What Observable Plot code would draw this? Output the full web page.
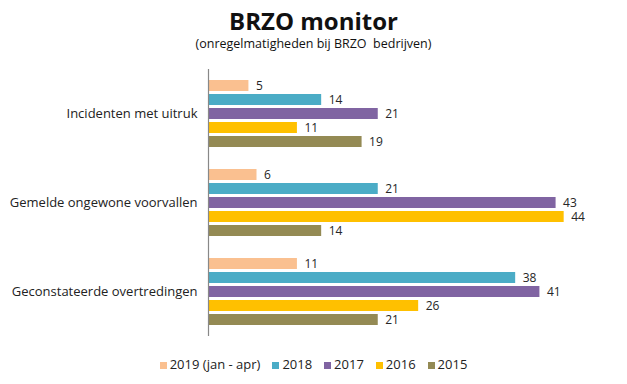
<!DOCTYPE html>
<html><head><meta charset="utf-8">
<script src="https://cdn.jsdelivr.net/npm/d3@7"></script>
<script src="https://cdn.jsdelivr.net/npm/@observablehq/plot@0.6"></script>
<style>
body{margin:0;background:#fff;font-family:"Open Sans",sans-serif;}
#wrap{position:relative;width:627px;height:384px;overflow:hidden}
#chart{position:absolute;left:0;top:0}
#title{position:absolute;top:5px;left:0;width:627px;text-align:center;font-weight:700;font-size:24px;color:#111;line-height:32px}
#subtitle{position:absolute;top:36px;left:0;width:627px;text-align:center;font-size:12.5px;color:#111;line-height:16px}
#legend{position:absolute;top:356px;left:0;width:627px;display:flex;justify-content:center;gap:12px;font-size:13px;color:#222;line-height:16px}
#legend span.sw{display:inline-block;width:7px;height:7px;margin-right:3px;vertical-align:0px}
</style></head>
<body>
<div id="wrap">
<div id="chart"></div>
<div id="title">BRZO monitor</div>
<div id="subtitle">(onregelmatigheden bij BRZO&nbsp; bedrijven)</div>
<div id="legend"></div>
</div>
<script>
const categories = ["Incidenten met uitruk", "Gemelde ongewone voorvallen", "Geconstateerde overtredingen"];
const series = ["2019 (jan - apr)", "2018", "2017", "2016", "2015"];
const v2019 = [5, 6, 11];
const v2018 = [14, 21, 38];
const v2017 = [21, 43, 41];
const v2016 = [11, 44, 26];
const v2015 = [19, 14, 21];
const colors = ["#FAC090", "#4BACC6", "#8064A2", "#FFC000", "#948A54"];

const seriesValues = [v2019, v2018, v2017, v2016, v2015];
const rows = [];
categories.forEach((c, i) => {
  series.forEach((s, j) => rows.push({category: c, series: s, value: seriesValues[j][i]}));
});

const chart = Plot.plot({
  width: 627,
  height: 384,
  marginLeft: 208,
  marginRight: 31,
  marginTop: 69,
  marginBottom: 48,
  style: {fontFamily: "Open Sans, sans-serif", fontSize: "13px", color: "#222", background: "transparent"},
  x: {domain: [0, 48], axis: null},
  y: {domain: series, paddingInner: 0.2, paddingOuter: 0.62, axis: null},
  fy: {domain: categories, padding: 0, label: null, axis: "left", tickSize: 0, tickPadding: 11},
  color: {domain: series, range: colors},
  marks: [
    Plot.barX(rows, {x: "value", y: "series", fy: "category", fill: "series"}),
    Plot.text(rows, {x: "value", y: "series", fy: "category", text: d => String(d.value), textAnchor: "start", dx: 7, fontSize: 12, fill: "#262626"}),
    Plot.ruleX([0], {stroke: "#888", strokeWidth: 1.2})
  ]
});
document.getElementById("chart").appendChild(chart);

const legend = document.getElementById("legend");
series.forEach((s, j) => {
  const item = document.createElement("div");
  item.innerHTML = `<span class="sw" style="background:${colors[j]}"></span>${s}`;
  legend.appendChild(item);
});
</script>
</body></html>
